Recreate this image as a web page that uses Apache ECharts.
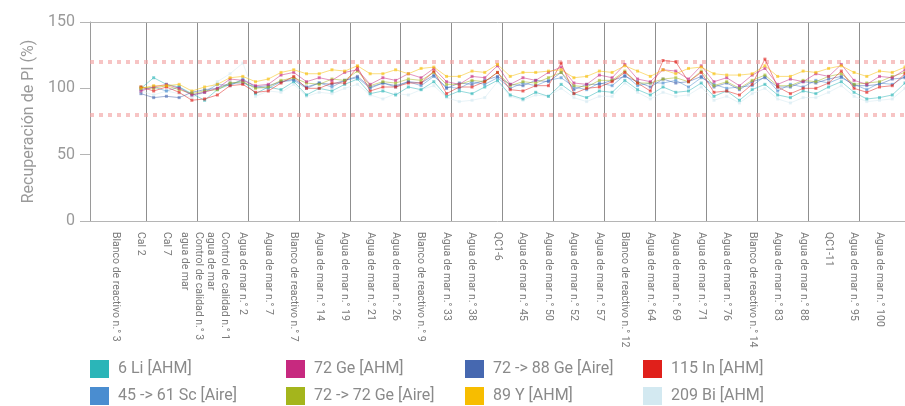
<!DOCTYPE html>
<html>
<head>
<meta charset="utf-8">
<script src="https://cdn.jsdelivr.net/npm/echarts@6/dist/echarts.min.js"></script>
<style>html,body{margin:0;padding:0;background:#fff;}#c{width:905px;height:406px;}</style>
</head>
<body>
<div id="c"></div>
<script>
// Tick labels of the sample axis (one label every second slot)
const categories = [
  'Blanco de reactivo n.° 3', 'Cal 2', 'Cal 7',
  'Control de calidad n.° 3\nagua de mar', 'Control de calidad n.° 1\nagua de mar',
  'Agua de mar n.° 2', 'Agua de mar n.° 7', 'Blanco de reactivo n.° 7',
  'Agua de mar n.° 14', 'Agua de mar n.° 19', 'Agua de mar n.° 21', 'Agua de mar n.° 26',
  'Blanco de reactivo n.° 9', 'Agua de mar n.° 33', 'Agua de mar n.° 38', 'QC1-6',
  'Agua de mar n.° 45', 'Agua de mar n.° 50', 'Agua de mar n.° 52', 'Agua de mar n.° 57',
  'Blanco de reactivo n.° 12', 'Agua de mar n.° 64', 'Agua de mar n.° 69', 'Agua de mar n.° 71',
  'Agua de mar n.° 76', 'Blanco de reactivo n.° 14', 'Agua de mar n.° 83', 'Agua de mar n.° 88',
  'QC1-11', 'Agua de mar n.° 95', 'Agua de mar n.° 100'
];
const yTicks = [0, 50, 100, 150];
const limits = [80, 120];

const seriesNames = ['6 Li [AHM]', '45 -> 61 Sc [Aire]', '72 Ge [AHM]', '72 -> 72 Ge [Aire]',
                     '72 -> 88 Ge [Aire]', '89 Y [AHM]', '115 In [AHM]', '209 Bi [AHM]'];

// Recoveries (%) per measurement (measurements start at slot 4 of 64)
const li6 = [100,108,103,101,96,91,99,103,106, 96,101,99,105,95,100,98,103, 107,
  96,98,95,101,99,105, 94,98,96,101,106, 95,92,97,94,103, 96,93,98,97,106,
  99,95,101,97,98,104, 94,98,91,99,103, 95,93,98,96,101,105, 97,92,93,95,104];
const sc45 = [99,101,98,101,95,97,103,102,107, 101,100,105,106,100,104,101,106, 108,
  100,104,101,105,102,109, 101,100,105,103,108, 100,104,102,106,108, 101,99,104,102,110,
  102,104,104,106,101,108, 103,100,101,102,109, 98,103,101,106,104,108, 103,99,104,103,109];
const ge72 = [98,101,103,100,95,97,100,107,106, 102,103,110,112,105,108,106,112, 114,
  103,108,106,111,108,115, 105,103,109,108,117, 103,108,106,112,116, 104,103,110,108,118,
  107,105,114,113,107,117, 105,108,102,110,115, 103,107,105,111,109,118, 106,103,109,108,114];
const ge72air = [101,100,102,99,96,98,99,104,105, 100,101,106,108,104,103,107,106, 113,
  102,105,104,107,106,112, 103,103,106,105,112, 102,105,104,108,112, 102,101,106,106,113,
  104,104,107,108,105,113, 102,105,100,106,110, 102,102,106,105,109,111, 103,104,105,109,112];
const ge88 = [96,93,94,93,97,99,100,104,104, 101,102,105,107,101,104,103,106, 109,
  101,104,102,105,104,110, 100,104,103,106,109, 103,102,106,105,112, 99,103,103,106,109,
  105,101,107,104,105,109, 101,104,99,105,108, 101,101,105,104,107,109, 102,102,103,107,108];
const y89 = [100,102,102,103,98,101,103,108,109, 105,107,112,114,111,111,114,113, 117,
  111,111,114,111,115,116, 109,109,113,112,118, 109,112,112,113,114, 108,109,113,112,117,
  113,109,114,111,115,116, 111,110,110,111,117, 109,109,113,112,115,117, 112,109,113,112,116];
const in115 = [101,98,101,97,91,92,95,102,103, 97,98,104,109,100,100,104,104, 116,
  98,101,101,104,104,113, 96,101,101,105,112, 99,98,102,102,119, 96,100,101,105,112,
  104,98,121,120,105,112, 97,98,95,103,122, 101,96,100,100,104,113, 100,97,101,102,111];
const bi209 = [98,95,98,96,93,97,105,111,119, 94,98,97,103,94,97,96,100, 103,
  95,92,96,95,99,102, 93,90,91,93,105, 94,91,95,94,100, 93,90,94,94,104,
  97,92,97,94,95,101, 91,94,89,96,100, 92,89,93,93,97,102, 94,90,91,92,100];

const seriesColors = ['#2bb5b8', '#4a8dd0', '#c7297f', '#a4b51c', '#4668b0', '#f7bd00', '#e0201b', '#d3e9f1'];
const seriesData = [li6, sc45, ge72, ge72air, ge88, y89, in115, bi209];

const SLOTS = 64;          // measurement slots across the axis (2 per label)
const FIRST = 4;           // first slot holding a measurement
const slotCats = [];
for (let i = 0; i <= SLOTS; i++) slotCats.push(String(i));
const FINE = 160;          // 5 sub-steps per label, for the separator grid
const fineCats = [];
for (let i = 0; i <= FINE; i++) fineCats.push(String(i));
const labelCats = [''].concat(categories, ['']);

function pad(arr) {
  const out = [];
  for (let i = 0; i < FIRST; i++) out.push(null);
  return out.concat(arr);
}

const drawOrder = [7, 0, 1, 4, 3, 6, 2, 5];
const series = drawOrder.map(function (k, n) {
  const s = {
    name: seriesNames[k],
    type: 'line',
    xAxisIndex: 1,
    data: pad(seriesData[k]),
    color: seriesColors[k],
    symbol: 'rect',
    symbolSize: 3,
    showSymbol: true,
    lineStyle: { width: 1, opacity: 0.5 },
    itemStyle: { opacity: 0.6 },
    z: 3 + n
  };
  if (n === 0) {
    s.markLine = {
      silent: true, symbol: 'none', label: { show: false },
      lineStyle: { color: '#f2a5a5', width: 4, type: [4, 5], opacity: 0.65 },
      data: limits.map(function (v) { return { yAxis: v }; })
    };
  }
  return s;
});

const legendCols = [
  ['6 Li [AHM]', '45 -> 61 Sc [Aire]'],
  ['72 Ge [AHM]', '72 -> 72 Ge [Aire]'],
  ['72 -> 88 Ge [Aire]', '89 Y [AHM]'],
  ['115 In [AHM]', '209 Bi [AHM]']
];
const legendLefts = [90, 286, 465, 643];
const legends = legendCols.map(function (d, i) {
  return {
    data: d, left: legendLefts[i], top: 360, orient: 'vertical',
    icon: 'rect', itemWidth: 19, itemHeight: 18, itemGap: 9, padding: 0,
    selectedMode: false, itemStyle: { opacity: 1 },
    textStyle: { fontSize: 16, color: '#8a8a8a', fontFamily: 'Roboto', padding: [0, 0, 0, 4] }
  };
});

const chart = echarts.init(document.getElementById('c'), null, { renderer: 'canvas' });
chart.setOption({
  animation: false,
  backgroundColor: '#fff',
  grid: { left: 90, right: 0, top: 22, bottom: 185, containLabel: false, outerBoundsMode: 'none' },
  legend: legends,
  xAxis: [
    {
      type: 'category', data: labelCats, boundaryGap: false, position: 'bottom',
      axisLine: { show: true, lineStyle: { color: '#b5b5b5', width: 1 } },
      axisTick: { show: false },
      splitLine: { show: false },
      axisLabel: {
        interval: 0, rotate: -90, margin: 11, fontSize: 10.5, color: '#7a7a7a',
        fontFamily: 'Roboto', lineHeight: 14
      }
    },
    {
      type: 'category', data: slotCats, boundaryGap: false, position: 'top',
      axisLine: { show: true, lineStyle: { color: '#b5b5b5', width: 1 } },
      axisTick: { show: false }, axisLabel: { show: false }, splitLine: { show: false }
    },
    {
      type: 'category', data: fineCats, boundaryGap: false, position: 'bottom',
      axisLine: { show: false }, axisTick: { show: false }, axisLabel: { show: false },
      splitLine: {
        show: true,
        interval: function (i) { return i >= 11 && (i - 11) % 10 === 0; },
        lineStyle: { color: '#8f8f8f', width: 1 }
      }
    }
  ],
  yAxis: {
    type: 'value', min: yTicks[0], max: yTicks[yTicks.length - 1], interval: 50,
    name: 'Recuperación de PI (%)', nameLocation: 'middle', nameGap: 52,
    nameTextStyle: { fontSize: 16, color: '#9a9a9a', fontFamily: 'Roboto' },
    axisLine: { show: true, lineStyle: { color: '#9a9a9a', width: 1 } },
    axisTick: { show: true, length: 10, lineStyle: { color: '#b5b5b5' } },
    axisLabel: { fontSize: 16, color: '#9a9a9a', margin: 15, fontFamily: 'Roboto' },
    splitLine: { show: false }
  },
  series: series
});
</script>
</body>
</html>
